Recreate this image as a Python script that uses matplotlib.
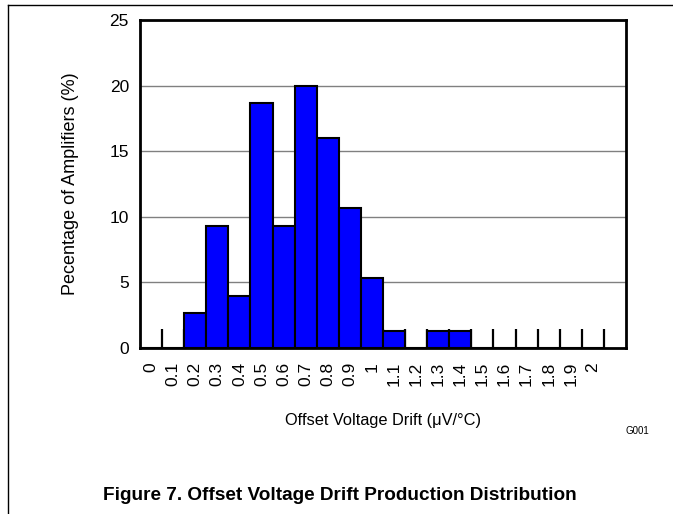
import matplotlib
matplotlib.use("Agg")
import matplotlib.pyplot as plt
from matplotlib.lines import Line2D
import numpy as np

plt.rcParams["font.family"] = ["Liberation Sans", "DejaVu Sans"]

labels = ["0", "0.1", "0.2", "0.3", "0.4", "0.5", "0.6", "0.7", "0.8", "0.9", "1",
          "1.1", "1.2", "1.3", "1.4", "1.5", "1.6", "1.7", "1.8", "1.9", "2"]
percent = [0, 0, 2.67, 9.33, 4.0, 18.67, 9.33, 20.0, 16.0, 10.67, 5.33,
           1.33, 0, 1.33, 1.33, 0, 0, 0, 0, 0, 0]

fig = plt.figure(figsize=(6.73, 5.14), dpi=100)
ax = fig.add_axes([140/673, 1 - 348/514, (626-140)/673, (348-20)/514])

x = np.arange(len(labels))
ax.bar(x, percent, width=1.0, color="#0000ff", edgecolor="black", linewidth=1.5, zorder=3)

ax.set_xlim(-0.5, len(labels) + 0.5)
ax.set_ylim(0, 25)
ax.set_yticks([0, 5, 10, 15, 20, 25])
ax.yaxis.grid(True, color="#808080", linewidth=1, zorder=0)
ax.set_axisbelow(True)

# labels sit under the bins, small inward ticks mark the bin edges
ax.set_xticks(x)
ax.set_xticklabels(labels, rotation=90, fontsize=12.5)
ax.set_xticks(x + 0.5, minor=True)
ax.tick_params(axis="x", which="major", length=0, pad=10)
ax.tick_params(axis="x", which="minor", direction="in", length=13.7, width=1.6, color="black")
ax.tick_params(axis="y", length=0, pad=8, labelsize=12.5)

for s in ax.spines.values():
    s.set_linewidth(2)
    s.set_zorder(4)

ax.set_ylabel("Pecentage of Amplifiers (%)", fontsize=13, labelpad=22)
ax.set_xlabel("Offset Voltage Drift (μV/°C)", fontsize=11.8, labelpad=19)

fig.text(637/673, 1 - 431/514, "G001", fontsize=7, ha="center", va="center")
fig.text(340/673, 1 - 495/514, "Figure 7. Offset Voltage Drift Production Distribution",
         fontsize=13.7, fontweight="bold", ha="center", va="center")

fig.add_artist(Line2D([8/673, 8/673], [0, 1 - 5/514], color="black", linewidth=1))
fig.add_artist(Line2D([8/673, 1], [1 - 5/514, 1 - 5/514], color="black", linewidth=1))

fig.savefig("out.png", dpi=100)
